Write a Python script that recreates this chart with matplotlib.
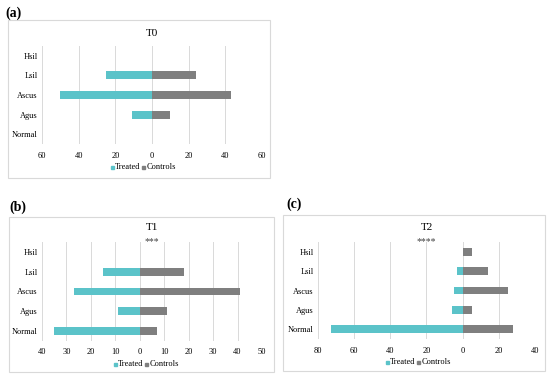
import numpy as np
import matplotlib.pyplot as plt
from matplotlib.patches import Rectangle

plt.rcParams['font.family'] = ['Liberation Serif', 'DejaVu Serif']

categories = ['Normal', 'Agus', 'Ascus', 'Lsil', 'Hsil']

# T0
t0_treated = [0, 11, 50, 25, 0]
t0_controls = [0, 10, 43, 24, 0]
# T1
t1_treated = [35, 9, 27, 15, 0]
t1_controls = [7, 11, 41, 18, 0]
# T2
t2_treated = [73, 6, 5, 3, 0]
t2_controls = [28, 5, 25, 14, 5]

TEAL = '#5BC3C9'
GREY = '#7F7F7F'
W, H = 550, 376


def fx(x):
    return x / W


def fy(y):
    return 1 - y / H


def px_axes(fig, x0, y0, x1, y1):
    return fig.add_axes([fx(x0), fy(y1), fx(x1) - fx(x0), fy(y0) - fy(y1)])


def panel(fig, box, plot, label, label_pos, title, title_y, stars, xlim, ticks,
          treated, controls, tick_y, legend_y):
    # outer frame
    bx0, by0, bx1, by1 = box
    fig.patches.append(Rectangle((fx(bx0), fy(by1)), fx(bx1) - fx(bx0), fy(by0) - fy(by1),
                                 transform=fig.transFigure, fill=False,
                                 edgecolor='#D9D9D9', linewidth=0.8))
    fig.text(fx(label_pos[0]), fy(label_pos[1]), label, fontsize=10, fontweight='bold',
             ha='left', va='center')

    ax = px_axes(fig, *plot)
    y = np.arange(len(categories))
    ax.barh(y, -np.array(treated), height=0.4, color=TEAL, zorder=3)
    ax.barh(y, controls, height=0.4, color=GREY, zorder=3)
    ax.set_xlim(*xlim)
    ax.set_ylim(-0.5, len(categories) - 0.5)
    ax.set_yticks(y)
    ax.set_yticklabels(categories, fontsize=6)
    ax.set_xticks(ticks)
    ax.set_xticklabels([str(abs(t)) for t in ticks], fontsize=6)
    ax.tick_params(length=0, pad=3)
    ax.tick_params(axis='x', pad=(tick_y - plot[3]) - 3)
    for t in ticks:
        ax.axvline(t, color='#D9D9D9', linewidth=0.7, zorder=1)
    for s in ax.spines.values():
        s.set_visible(False)

    cx = (plot[0] + plot[2]) / 2
    fig.text(fx(cx), fy(title_y), title, fontsize=8, ha='center', va='center')
    if stars:
        fig.text(fx(cx), fy(title_y + 15), stars, fontsize=7, ha='center', va='center',
                 color='#404040')

    # legend
    lx = (bx0 + bx1) / 2
    fig.patches.append(Rectangle((fx(lx - 28), fy(legend_y + 1.5)), fx(3), fy(0) - fy(3),
                                 transform=fig.transFigure, color=TEAL))
    fig.text(fx(lx - 24), fy(legend_y), 'Treated', fontsize=6, ha='left', va='center')
    fig.patches.append(Rectangle((fx(lx + 3), fy(legend_y + 1.5)), fx(3), fy(0) - fy(3),
                                 transform=fig.transFigure, color=GREY))
    fig.text(fx(lx + 8), fy(legend_y), 'Controls', fontsize=6, ha='left', va='center')
    return ax


fig = plt.figure(figsize=(W / 100, H / 100), dpi=100)

panel(fig, (8, 20, 270, 178), (42, 46, 262, 144), '(a)', (5, 13), 'T0', 33, None,
      (-60, 60), [-60, -40, -20, 0, 20, 40, 60], t0_treated, t0_controls, 153, 167)

panel(fig, (9, 217, 274, 372), (42, 242, 262, 341), '(b)', (9, 207), 'T1', 227, '***',
      (-40, 50), [-40, -30, -20, -10, 0, 10, 20, 30, 40, 50], t1_treated, t1_controls, 349, 364)

panel(fig, (283, 215, 545, 371), (318, 242, 535, 339), '(c)', (286, 204), 'T2', 227, '****',
      (-80, 40), [-80, -60, -40, -20, 0, 20, 40], t2_treated, t2_controls, 348, 362)

fig.savefig('out.png', dpi=100)
